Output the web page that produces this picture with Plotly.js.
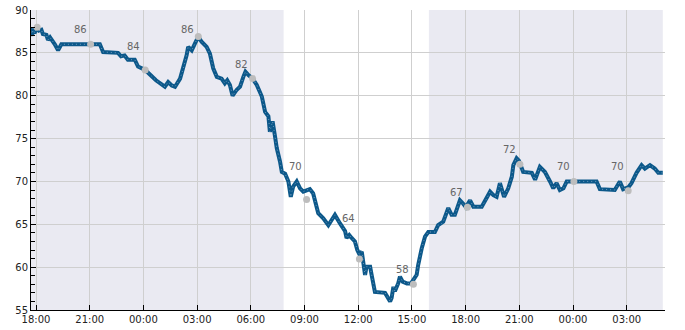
<!DOCTYPE html>
<html>
<head>
<meta charset="utf-8">
<script src="https://cdn.plot.ly/plotly-3.0.1.min.js"></script>
<style>
  html, body { margin: 0; padding: 0; background: #ffffff; }
  #chart { width: 685px; height: 330px; }
</style>
</head>
<body>
<div id="chart"></div>
<script>
// ---- data ----
var times = [
"2024-05-01 17:43","2024-05-01 17:47","2024-05-01 17:50","2024-05-01 17:55","2024-05-01 18:04",
"2024-05-01 18:10","2024-05-01 18:18","2024-05-01 18:23","2024-05-01 18:35","2024-05-01 18:40",
"2024-05-01 18:47","2024-05-01 18:51","2024-05-01 18:57","2024-05-01 19:03","2024-05-01 19:14",
"2024-05-01 19:19","2024-05-01 19:25","2024-05-01 21:34","2024-05-01 21:45","2024-05-01 22:35",
"2024-05-01 22:45","2024-05-01 22:57","2024-05-01 23:08","2024-05-01 23:31","2024-05-01 23:42",
"2024-05-02 00:06","2024-05-02 00:25","2024-05-02 00:42","2024-05-02 01:12","2024-05-02 01:23",
"2024-05-02 01:35","2024-05-02 01:46","2024-05-02 02:03","2024-05-02 02:14","2024-05-02 02:25",
"2024-05-02 02:30","2024-05-02 02:42","2024-05-02 02:53","2024-05-02 03:04","2024-05-02 03:15",
"2024-05-02 03:32","2024-05-02 03:43","2024-05-02 03:54","2024-05-02 04:06","2024-05-02 04:22",
"2024-05-02 04:33","2024-05-02 04:41","2024-05-02 04:50","2024-05-02 04:59","2024-05-02 05:13",
"2024-05-02 05:24","2024-05-02 05:35","2024-05-02 05:42","2024-05-02 05:52","2024-05-02 06:06",
"2024-05-02 06:20","2024-05-02 06:37","2024-05-02 06:48","2024-05-02 06:59","2024-05-02 07:04",
"2024-05-02 07:13","2024-05-02 07:21","2024-05-02 07:27","2024-05-02 07:38","2024-05-02 07:44",
"2024-05-02 07:55","2024-05-02 08:06","2024-05-02 08:14","2024-05-02 08:22","2024-05-02 08:34",
"2024-05-02 08:45","2024-05-02 08:56","2024-05-02 09:07","2024-05-02 09:18","2024-05-02 09:29",
"2024-05-02 09:46","2024-05-02 10:03","2024-05-02 10:20","2024-05-02 10:31","2024-05-02 10:42",
"2024-05-02 10:59","2024-05-02 11:16","2024-05-02 11:21","2024-05-02 11:30","2024-05-02 11:38",
"2024-05-02 11:49","2024-05-02 11:57","2024-05-02 12:04","2024-05-02 12:12","2024-05-02 12:23",
"2024-05-02 12:28","2024-05-02 12:40","2024-05-02 12:45","2024-05-02 12:51","2024-05-02 12:56",
"2024-05-02 13:30","2024-05-02 13:41","2024-05-02 13:47","2024-05-02 13:52","2024-05-02 13:58",
"2024-05-02 14:03","2024-05-02 14:14","2024-05-02 14:20","2024-05-02 14:29","2024-05-02 14:43",
"2024-05-02 14:57","2024-05-02 15:16","2024-05-02 15:21","2024-05-02 15:33","2024-05-02 15:44",
"2024-05-02 15:55","2024-05-02 16:17","2024-05-02 16:28","2024-05-02 16:40","2024-05-02 16:45",
"2024-05-02 17:02","2024-05-02 17:13","2024-05-02 17:24","2024-05-02 17:41","2024-05-02 17:52",
"2024-05-02 18:01","2024-05-02 18:15","2024-05-02 18:26","2024-05-02 18:54","2024-05-02 19:11",
"2024-05-02 19:22","2024-05-02 19:33","2024-05-02 19:44","2024-05-02 19:55","2024-05-02 20:09",
"2024-05-02 20:23","2024-05-02 20:35","2024-05-02 20:40","2024-05-02 20:51","2024-05-02 20:59",
"2024-05-02 21:13","2024-05-02 21:42","2024-05-02 21:53","2024-05-02 22:09","2024-05-02 22:26",
"2024-05-02 22:43","2024-05-02 22:54","2024-05-02 23:05","2024-05-02 23:16","2024-05-02 23:28",
"2024-05-02 23:39","2024-05-03 01:19","2024-05-03 01:30","2024-05-03 02:20","2024-05-03 02:37",
"2024-05-03 02:48","2024-05-03 03:05","2024-05-03 03:16","2024-05-03 03:33","2024-05-03 03:50",
"2024-05-03 04:01","2024-05-03 04:18","2024-05-03 04:34","2024-05-03 04:46","2024-05-03 05:01"
];
var values = [
87.5, 87.0, 87.9, 87.3, 88.0,
87.6, 87.7, 87.2, 87.1, 86.5,
86.8, 86.6, 86.4, 86.0, 85.3,
85.7, 86.0, 86.0, 85.1, 85.0,
84.6, 84.7, 84.2, 84.2, 83.4,
83.0, 82.4, 81.8, 81.05, 81.6,
81.2, 81.05, 82.0, 83.2, 84.75,
85.7, 85.3, 86.1, 86.9, 86.3,
85.7, 84.9, 83.2, 82.2, 82.0,
81.45, 81.8, 81.25, 80.0, 80.7,
81.05, 82.2, 82.8, 82.4, 82.0,
81.25, 79.9, 78.1, 77.6, 75.8,
77.0, 75.3, 73.9, 72.3, 71.1,
70.9, 70.0, 68.2, 69.4, 70.0,
69.2, 68.8, 69.0, 69.1, 68.6,
66.3, 65.7, 64.9, 65.5, 66.1,
65.1, 64.2, 63.4, 63.75, 63.4,
63.0, 62.0, 61.5, 61.8, 59.1,
60.05, 60.05, 59.1, 58.1, 57.1,
57.0, 56.4, 56.0, 56.4, 57.7,
57.2, 58.1, 58.9, 58.3, 58.1,
58.1, 59.1, 60.25, 62.2, 63.55,
64.1, 64.1, 64.9, 65.1, 65.3,
66.9, 66.1, 66.1, 67.8, 67.4,
67.0, 67.8, 67.05, 67.05, 68.0,
68.8, 68.4, 68.2, 69.8, 68.2,
69.2, 70.55, 71.9, 72.7, 72.4,
71.1, 71.0, 70.2, 71.7, 71.1,
70.0, 69.2, 69.8, 69.0, 69.2,
70.0, 70.0, 69.1, 69.0, 70.0,
69.1, 69.3, 69.8, 71.0, 71.9,
71.5, 71.9, 71.5, 71.0, 71.0
];

// highlighted samples (grey dots)
var dotTimes = ["2024-05-01 18:04","2024-05-01 21:03","2024-05-02 00:06","2024-05-02 03:04",
  "2024-05-02 06:06","2024-05-02 09:07","2024-05-02 12:04","2024-05-02 15:05",
  "2024-05-02 18:06","2024-05-02 21:02","2024-05-03 00:03","2024-05-03 03:05"];
var dotValues = [88, 86, 83, 86.9, 82, 67.9, 60.95, 58, 67, 72, 70, 68.9];

// labels
var labelTimes = ["2024-05-01 21:00","2024-05-02 00:00","2024-05-02 03:00","2024-05-02 06:00",
  "2024-05-02 09:00","2024-05-02 12:00","2024-05-02 15:00","2024-05-02 18:00",
  "2024-05-02 21:00","2024-05-03 00:00","2024-05-03 03:00"];
var labelValues = [86, 84, 86, 82, 70, 64, 58, 67, 72, 70, 70];

// shaded periods
var shadeStarts = ["2024-05-01 17:43","2024-05-02 15:57"];
var shadeEnds   = ["2024-05-02 07:50","2024-05-03 05:01"];

var xRange = ["2024-05-01 17:43:14","2024-05-03 05:08:24"];
var yRange = [55, 90];

// ---- build ----
var FONT = "DejaVu Sans, sans-serif";
var lineColor = "#0c588a";

var traces = [
  { x: times, y: values, type: "scatter", mode: "lines",
    line: { color: lineColor, width: 4, shape: "linear" }, hoverinfo: "skip" },
  { x: times, y: values, type: "scatter", mode: "lines",
    line: { color: "#6f9abd", width: 1, dash: "1px,3px" }, hoverinfo: "skip" },
  { x: dotTimes, y: dotValues, type: "scatter", mode: "markers",
    marker: { color: "#bdbdbd", size: 7 }, hoverinfo: "skip" }
];

var shapes = shadeStarts.map(function (s, i) {
  return { type: "rect", xref: "x", yref: "paper", x0: s, x1: shadeEnds[i], y0: 0, y1: 1,
           fillcolor: "#eaeaf2", line: { width: 0 }, layer: "below" };
});

var annotations = labelTimes.map(function (t, i) {
  return { x: t, y: labelValues[i], xref: "x", yref: "y", text: String(labelValues[i]),
           showarrow: false, xanchor: "right", yanchor: "bottom", xshift: -1, yshift: 7,
           font: { family: FONT, size: 10, color: "#666666" } };
});

var layout = {
  width: 685, height: 330,
  margin: { l: 31, r: 20, t: 10, b: 20, pad: 0 },
  paper_bgcolor: "#ffffff", plot_bgcolor: "#ffffff",
  showlegend: false,
  font: { family: FONT, size: 10, color: "#222222" },
  xaxis: {
    type: "date", range: xRange,
    tick0: "2024-05-01 18:00", dtick: 3 * 3600 * 1000, tickformat: "%H:%M",
    showgrid: true, gridcolor: "#cfcfcf", gridwidth: 1,
    showline: true, linecolor: "#000000", linewidth: 1,
    ticks: "inside", ticklen: 5, tickcolor: "#000000",
    tickfont: { family: FONT, size: 10, color: "#222222" },
    zeroline: false, fixedrange: true
  },
  yaxis: {
    range: yRange, dtick: 5, tick0: 55,
    showgrid: true, gridcolor: "#cfcfcf", gridwidth: 1,
    showline: true, linecolor: "#000000", linewidth: 1,
    ticks: "inside", ticklen: 5, tickcolor: "#000000",
    minor: { dtick: 1, ticks: "inside", ticklen: 4, tickcolor: "#000000", showgrid: false },
    tickfont: { family: FONT, size: 10, color: "#222222" },
    zeroline: false, fixedrange: true
  },
  shapes: shapes,
  annotations: annotations
};

Plotly.newPlot("chart", traces, layout, { staticPlot: true, displayModeBar: false });
</script>
</body>
</html>
